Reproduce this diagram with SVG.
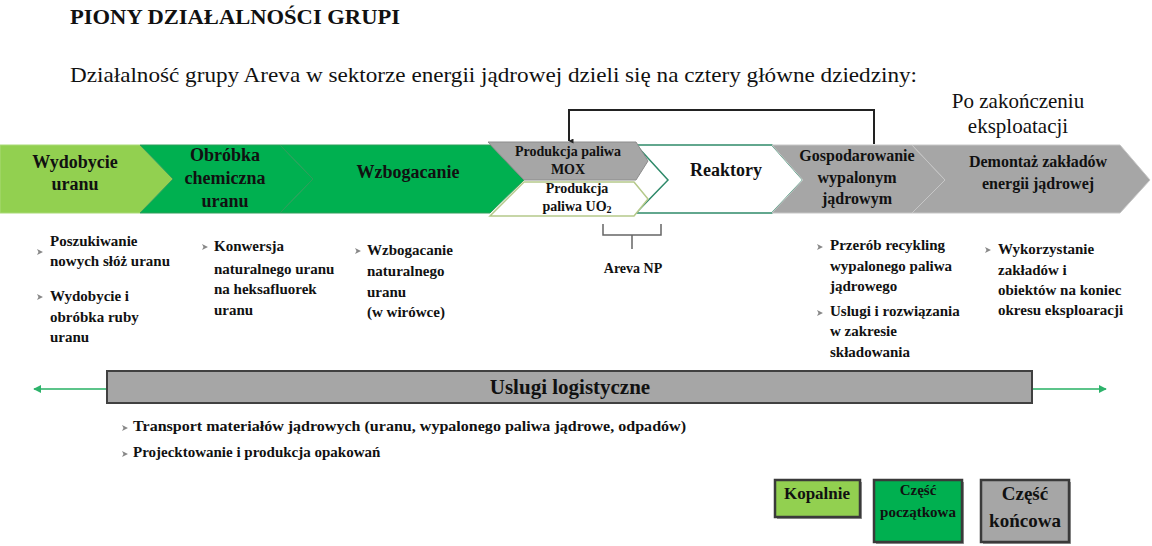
<svg xmlns="http://www.w3.org/2000/svg" width="1152" height="546" viewBox="0 0 1152 546">
<style>
text{font-family:"Liberation Serif","Times New Roman",serif;fill:#111}
.b{font-weight:bold}
.c{text-anchor:middle}
.lab{font-size:18px;font-weight:bold;text-anchor:middle}
.lab16{font-size:16px;font-weight:bold;text-anchor:middle}
.lab14{font-size:14px;font-weight:bold;text-anchor:middle}
.bul{font-size:15px;font-weight:bold}
.lg{fill:#92D050;stroke:#A9DA76;stroke-width:1}
.gr{fill:#00B050;stroke:#2E9E5B;stroke-width:1}
.gy{fill:#A6A6A6;stroke:#C6C6C6;stroke-width:1}
.leg{stroke:#3A3A3A;stroke-width:2.5}
.sh{fill:#9A9A9A}
</style>
<defs>
<marker id="ad" viewBox="0 0 10 10" refX="5" refY="9" markerWidth="5" markerHeight="5" orient="auto-start-reverse" markerUnits="userSpaceOnUse">
<path d="M0,0 L10,0 L5,10 z" fill="#222"/>
</marker>
<marker id="ag" viewBox="0 0 10 10" refX="9" refY="5" markerWidth="8" markerHeight="8" orient="auto-start-reverse" markerUnits="userSpaceOnUse">
<path d="M0,0 L10,5 L0,10 z" fill="#2DB36B"/>
</marker>
<path id="blt" d="M-3,-3 L3,0 L-3,3 L-1.5,0 z" fill="#888"/>
</defs>

<text x="70" y="24" class="b" font-size="20" textLength="330" lengthAdjust="spacingAndGlyphs">PIONY DZIAŁALNOŚCI GRUPI</text>
<text x="70" y="82" font-size="22" textLength="847" lengthAdjust="spacingAndGlyphs">Działalność grupy Areva w sektorze energii jądrowej dzieli się na cztery główne dziedziny:</text>
<text x="1018" y="108" class="c" font-size="21">Po zakończeniu</text>
<text x="1018" y="133" class="c" font-size="21">eksploatacji</text>

<g id="n-wydobycie">
<polygon class="lg" points="0,145 140,145 173,179 140,213 0,213"/>
<text x="75" y="168" class="lab">Wydobycie</text>
<text x="75" y="190" class="lab">uranu</text>
</g>
<g id="n-obrobka">
<polygon class="gr" points="140,145 280,145 313,179 280,213 140,213 173,179"/>
<text x="225" y="161" class="lab">Obróbka</text>
<text x="225" y="184" class="lab">chemiczna</text>
<text x="225" y="207" class="lab">uranu</text>
</g>
<g id="n-wzbogacanie">
<polygon class="gr" points="280,145 490,145 524,180 490,213 280,213 313,179"/>
<text x="408" y="178" class="lab">Wzbogacanie</text>
</g>
<g id="n-reaktory">
<polygon points="636,145 772,145 803,180 772,213 636,213 668,180" fill="#fff" stroke="#2F8A6A" stroke-width="1.5"/>
<text x="726" y="176" class="lab">Reaktory</text>
</g>
<g id="n-mox">
<polygon points="488,142 636,142 648,161 636,180 524,180" fill="#A6A6A6" stroke="#8C8C8C" stroke-width="1"/>
<text x="568" y="156" class="lab14">Produkcja paliwa</text>
<text x="568" y="174" class="lab14">MOX</text>
</g>
<g id="n-uo2">
<polygon points="524,182 634,182 648,199 634,216 490,216" fill="#fff" stroke="#B5C98A" stroke-width="1.5"/>
<text x="577" y="193" class="lab14">Produkcja</text>
<text x="577" y="211" class="lab14">paliwa UO<tspan font-size="10" dy="2">2</tspan></text>
</g>
<g id="n-gospodarowanie">
<polygon class="gy" points="772,145 912,145 945,180 912,213 772,213 803,180"/>
<text x="857" y="161" class="lab16">Gospodarowanie</text>
<text x="857" y="183" class="lab16">wypalonym</text>
<text x="857" y="204" class="lab16">jądrowym</text>
</g>
<g id="n-demontaz">
<polygon class="gy" points="912,145 1120,145 1150,180 1120,213 912,213 945,180"/>
<text x="1038" y="167" class="lab16">Demontaż zakładów</text>
<text x="1038" y="189" class="lab16">energii jądrowej</text>
</g>

<g id="connectors">
<path d="M874,144 V110 H569 V141" fill="none" stroke="#222" stroke-width="2" marker-end="url(#ad)"/>
<path d="M603,224 V235 H661 V224 M632,235 V249" fill="none" stroke="#666" stroke-width="1.5"/>
<line x1="107" y1="389" x2="34" y2="389" stroke="#5CC48A" stroke-width="2" marker-end="url(#ag)"/>
<line x1="1032" y1="389" x2="1106" y2="389" stroke="#5CC48A" stroke-width="2" marker-end="url(#ag)"/>
</g>

<g id="n-arevanp">
<text x="633" y="273" class="lab14">Areva NP</text>
</g>

<g id="list-wydobycie">
<use href="#blt" x="40" y="252"/>
<text x="50" y="246" class="bul">Poszukiwanie</text>
<text x="50" y="266" class="bul">nowych słóż uranu</text>
<use href="#blt" x="40" y="297"/>
<text x="50" y="301" class="bul">Wydobycie i</text>
<text x="50" y="322" class="bul">obróbka ruby</text>
<text x="50" y="342" class="bul">uranu</text>
</g>
<g id="list-obrobka">
<use href="#blt" x="205" y="247"/>
<text x="214" y="251" class="bul">Konwersja</text>
<text x="214" y="274" class="bul">naturalnego uranu</text>
<text x="214" y="294" class="bul">na heksafluorek</text>
<text x="214" y="315" class="bul">uranu</text>
</g>
<g id="list-wzbogacanie">
<use href="#blt" x="358" y="251"/>
<text x="367" y="255" class="bul">Wzbogacanie</text>
<text x="367" y="276" class="bul">naturalnego</text>
<text x="367" y="297" class="bul">uranu</text>
<text x="367" y="317" class="bul">(w wirówce)</text>
</g>
<g id="list-gospodarowanie">
<use href="#blt" x="820" y="247"/>
<text x="830" y="250" class="bul">Przerób recykling</text>
<text x="830" y="271" class="bul">wypalonego paliwa</text>
<text x="830" y="291" class="bul">jądrowego</text>
<use href="#blt" x="820" y="313"/>
<text x="830" y="316" class="bul">Uslugi i rozwiązania</text>
<text x="830" y="336" class="bul">w zakresie</text>
<text x="830" y="357" class="bul">składowania</text>
</g>
<g id="list-demontaz">
<use href="#blt" x="988" y="250"/>
<text x="998" y="254" class="bul">Wykorzystanie</text>
<text x="998" y="275" class="bul">zakładów i</text>
<text x="998" y="295" class="bul">obiektów na koniec</text>
<text x="998" y="315" class="bul">okresu eksploaracji</text>
</g>

<g id="n-logistyka">
<rect x="107" y="371" width="925" height="32" fill="#A6A6A6" stroke="#404040" stroke-width="2"/>
<text x="570" y="394" class="b c" font-size="21">Uslugi logistyczne</text>
</g>
<g id="list-logistyka">
<use href="#blt" x="125" y="428"/>
<text x="133" y="431" class="bul" textLength="553" lengthAdjust="spacingAndGlyphs">Transport materiałów jądrowych (uranu, wypalonego paliwa jądrowe, odpadów)</text>
<use href="#blt" x="125" y="454"/>
<text x="133" y="457" class="bul">Projecktowanie i produkcja opakowań</text>
</g>

<g id="legend-kopalnie">
<rect class="sh" x="777" y="482" width="85" height="37"/>
<rect class="leg" x="775" y="480" width="85" height="37" fill="#92D050"/>
<text x="817" y="499" class="b c" font-size="17">Kopalnie</text>
</g>
<g id="legend-poczatkowa">
<rect class="sh" x="876" y="482" width="88" height="62"/>
<rect class="leg" x="874" y="480" width="88" height="62" fill="#00B050"/>
<text x="918" y="495" class="b c" font-size="15">Część</text>
<text x="918" y="517" class="b c" font-size="15">początkowa</text>
</g>
<g id="legend-koncowa">
<rect class="sh" x="983" y="482" width="88" height="62"/>
<rect class="leg" x="981" y="480" width="88" height="62" fill="#A6A6A6"/>
<text x="1025" y="500" class="b c" font-size="19">Część</text>
<text x="1025" y="527" class="b c" font-size="19">końcowa</text>
</g>
</svg>
